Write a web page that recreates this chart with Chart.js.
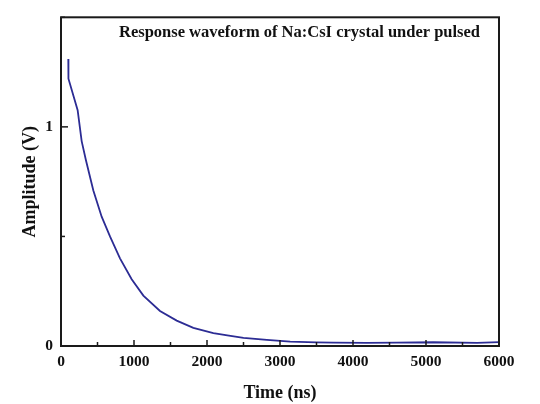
<!DOCTYPE html>
<html>
<head>
<meta charset="utf-8">
<script src="https://cdn.jsdelivr.net/npm/chart.js@4.4.1/dist/chart.umd.min.js"></script>
<style>
  html, body { margin: 0; padding: 0; background: #fff; }
  #wrap { width: 540px; height: 404px; }
</style>
</head>
<body>
<div id="wrap"><canvas id="waveChart" width="540" height="404"></canvas></div>
<script>
// Scintillator pulse response, sampled along the trace
const timeNs = [100, 102, 228, 283, 340, 443, 557, 671, 808, 968, 1128, 1356, 1585, 1813, 2087, 2300, 2500, 2820, 3140, 3500, 3730, 4190, 4600, 5100, 5700, 6000];
const amplitudeV = [1.31, 1.22, 1.076, 0.935, 0.85, 0.71, 0.59, 0.50, 0.40, 0.305, 0.23, 0.16, 0.116, 0.083, 0.059, 0.047, 0.037, 0.028, 0.020, 0.017, 0.015, 0.014, 0.015, 0.017, 0.014, 0.018];

const xLabeledTicks = [0, 1000, 2000, 3000, 4000, 5000, 6000];
const yLabeledTicks = [0, 1];
const plotTitle = 'Response waveform of Na:CsI crystal under pulsed';

const serif = '"Liberation Serif", "Times New Roman", serif';

// frame around the plot, inward tick marks and the caption inside the plot
const framePlugin = {
  id: 'frame',
  afterDraw(chart) {
    const { ctx, chartArea: a, scales } = chart;
    ctx.save();
    ctx.strokeStyle = '#1a1a1a';

    ctx.lineWidth = 1.5;
    scales.x.ticks.forEach((t) => {
      const px = scales.x.getPixelForValue(t.value);
      const len = xLabeledTicks.includes(t.value) ? 6 : 4;
      ctx.beginPath();
      ctx.moveTo(px, a.bottom);
      ctx.lineTo(px, a.bottom - len);
      ctx.stroke();
    });
    scales.y.ticks.forEach((t) => {
      const py = scales.y.getPixelForValue(t.value);
      const len = yLabeledTicks.includes(t.value) ? 7 : 4;
      ctx.beginPath();
      ctx.moveTo(a.left, py);
      ctx.lineTo(a.left + len, py);
      ctx.stroke();
    });

    ctx.lineWidth = 2;
    ctx.strokeRect(a.left, a.top, a.right - a.left, a.bottom - a.top);

    ctx.fillStyle = '#111';
    ctx.font = 'bold 16.5px ' + serif;
    ctx.textAlign = 'center';
    ctx.textBaseline = 'middle';
    ctx.fillText(plotTitle, 299.5, 33, 361);
    ctx.restore();
  },
};

new Chart(document.getElementById('waveChart'), {
  type: 'line',
  data: {
    datasets: [
      {
        label: 'Amplitude',
        data: timeNs.map((t, i) => ({ x: t, y: amplitudeV[i] })),
        borderColor: '#2c2c94',
        borderWidth: 1.8,
        pointRadius: 0,
        fill: false,
        tension: 0,
      },
    ],
  },
  options: {
    responsive: false,
    animation: false,
    layout: { padding: { top: 10, right: 41, left: 0, bottom: 0 } },
    plugins: {
      legend: { display: false },
      tooltip: { enabled: false },
    },
    scales: {
      x: {
        type: 'linear',
        min: 0,
        max: 6000,
        afterFit: (scale) => { scale.height = 58; },
        grid: { display: false, drawTicks: false },
        border: { display: false },
        ticks: {
          stepSize: 500,
          padding: 7,
          maxRotation: 0,
          autoSkip: false,
          color: '#111',
          font: { family: serif, size: 15.5, weight: 'bold' },
          callback: (v) => (xLabeledTicks.includes(v) ? String(v) : ''),
        },
        title: {
          display: true,
          text: 'Time (ns)',
          color: '#111',
          padding: { top: 0, bottom: 0 },
          font: { family: serif, size: 18, weight: 'bold' },
        },
      },
      y: {
        min: 0,
        max: 1.5,
        afterFit: (scale) => { scale.width = 61; },
        grid: { display: false, drawTicks: false },
        border: { display: false },
        ticks: {
          stepSize: 0.5,
          padding: 8,
          color: '#111',
          font: { family: serif, size: 15.5, weight: 'bold' },
          callback: (v) => (yLabeledTicks.includes(v) ? String(v) : ''),
        },
        title: {
          display: true,
          text: 'Amplitude (V)',
          color: '#111',
          padding: { top: 20, bottom: 0 },
          font: { family: serif, size: 18, weight: 'bold' },
        },
      },
    },
  },
  plugins: [framePlugin],
});
</script>
</body>
</html>
